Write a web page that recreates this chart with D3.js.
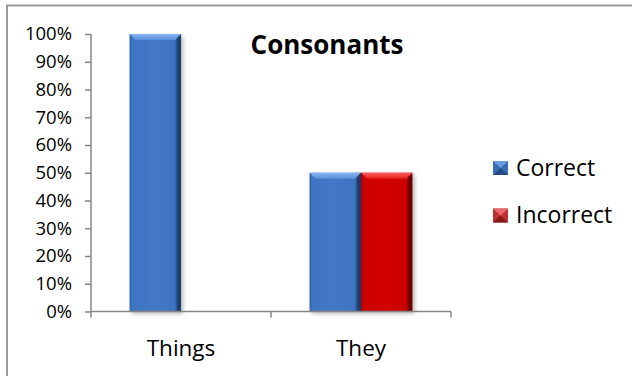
<!DOCTYPE html>
<html>
<head>
<meta charset="utf-8">
<script src="https://cdn.jsdelivr.net/npm/d3@7"></script>
<style>
  html, body { margin: 0; padding: 0; background: #fff; }
  svg { display: block; font-family: "Open Sans", Lato, sans-serif; }
</style>
</head>
<body>
<svg id="chart" width="632" height="376"></svg>
<script>
// Chart data
const categories = ["Things", "They"];
const seriesNames = ["Correct", "Incorrect"];
const correctValues = [1.00, 0.50];
const incorrectValues = [0.00, 0.50];
const yTickValues = [0, 0.1, 0.2, 0.3, 0.4, 0.5, 0.6, 0.7, 0.8, 0.9, 1.0];
const chartTitle = "Consonants";

const seriesValues = [correctValues, incorrectValues];

const palette = {
  Correct:   { left: "#2f5f9f", body: "#3d74c2", mid: "#4479c6", right: "#1e3d6b", top1: "#86b5f2", top2: "#5a8fd9", legend: "#3a6db5", legendTop: "#6a9ce0", legendBot: "#24497f" },
  Incorrect: { left: "#a00000", body: "#cc0000", mid: "#d20404", right: "#6a0000", top1: "#ff5a5a", top2: "#e81e1e", legend: "#c03030", legendTop: "#e86a6a", legendBot: "#8a1a1a" }
};

const svg = d3.select("#chart");
const defs = svg.append("defs");

// Soft shadow under the bars
const shadow = defs.append("filter").attr("id", "barShadow")
  .attr("x", "-20%").attr("y", "-5%").attr("width", "150%").attr("height", "115%");
shadow.append("feDropShadow").attr("dx", 2).attr("dy", 2).attr("stdDeviation", 2)
  .attr("flood-color", "#000").attr("flood-opacity", 0.3);

// Horizontal face gradient and top-bevel gradient per series
seriesNames.forEach(name => {
  const c = palette[name];
  const g = defs.append("linearGradient").attr("id", "face-" + name)
    .attr("x1", "0%").attr("x2", "100%").attr("y1", "0%").attr("y2", "0%");
  [[0, c.left], [0.05, c.body], [0.5, c.mid], [0.88, c.body], [0.94, c.right], [1, c.right]]
    .forEach(([o, col]) => g.append("stop").attr("offset", o).attr("stop-color", col));
  const t = defs.append("linearGradient").attr("id", "top-" + name)
    .attr("x1", "0%").attr("x2", "0%").attr("y1", "0%").attr("y2", "100%");
  [[0, c.top1], [1, c.top2]].forEach(([o, col]) => t.append("stop").attr("offset", o).attr("stop-color", col));
});

// Outer chart border
svg.append("rect")
  .attr("x", 7).attr("y", 5.5).attr("width", 700).attr("height", 420)
  .attr("fill", "none").attr("stroke", "#9a9a9a").attr("stroke-width", 2);

// Scales
const x0 = d3.scaleBand().domain(categories).range([91, 451]).paddingInner(0).paddingOuter(0);
const x1 = d3.scaleBand().domain(seriesNames).range([0, x0.bandwidth()]).paddingInner(0).paddingOuter(0.75);
const y = d3.scaleLinear().domain([0, 1]).range([311.5, 34]);

const axisColor = "#868686";

// Y axis
const yAxis = svg.append("g").attr("transform", `translate(${x0.range()[0]},0)`)
  .call(d3.axisLeft(y).tickValues(yTickValues).tickSize(6).tickPadding(13)
    .tickFormat(d3.format(".0%")));
yAxis.selectAll("path, line").attr("stroke", axisColor).attr("stroke-width", 1.5);
yAxis.select(".domain").attr("d", `M-0,${y(1)}V${y(0)}`);
yAxis.selectAll("text").attr("font-size", 18.5).attr("fill", "#000")
  .style("font-family", "'Open Sans', Lato, sans-serif");

// Bars
const groups = svg.append("g").selectAll("g.cat")
  .data(categories).join("g").attr("class", "cat")
  .attr("transform", d => `translate(${x0(d)},0)`);

groups.each(function(cat, ci) {
  const g = d3.select(this);
  seriesNames.forEach((name, si) => {
    const v = seriesValues[si][ci];
    const bx = x1(name), bw = x1.bandwidth();
    const by = y(v), bh = y(0) - y(v);
    if (bh <= 0) return;
    const bar = g.append("g").attr("filter", "url(#barShadow)");
    bar.append("rect").attr("x", bx).attr("y", by).attr("width", bw).attr("height", bh)
      .attr("fill", `url(#face-${name})`);
    const b = Math.min(6, bh / 2);
    bar.append("polygon")
      .attr("points", [[bx, by], [bx + bw, by], [bx + bw - b, by + b], [bx + b, by + b]].map(p => p.join(",")).join(" "))
      .attr("fill", `url(#top-${name})`);
  });
});

// X axis line and category boundary ticks
const xa = svg.append("g");
xa.append("line").attr("x1", x0.range()[0]).attr("x2", x0.range()[1])
  .attr("y1", y(0)).attr("y2", y(0)).attr("stroke", axisColor).attr("stroke-width", 1.5);
const boundaries = categories.map(c => x0(c)).concat([x0(categories[categories.length - 1]) + x0.bandwidth()]);
xa.selectAll("line.tick").data(boundaries).join("line").attr("class", "tick")
  .attr("x1", d => d).attr("x2", d => d).attr("y1", y(0)).attr("y2", y(0) + 6)
  .attr("stroke", axisColor).attr("stroke-width", 1.5);
xa.selectAll("text").data(categories).join("text")
  .attr("x", d => x0(d) + x0.bandwidth() / 2).attr("y", 356)
  .attr("text-anchor", "middle").attr("font-size", 22.5).attr("fill", "#000")
  .text(d => d);

// Title
svg.append("text").attr("x", 327).attr("y", 54).attr("text-anchor", "middle")
  .attr("font-size", 26).attr("font-weight", "bold").attr("fill", "#000")
  .text(chartTitle);

// Legend
const legend = svg.append("g").attr("transform", "translate(493,161)");
const item = legend.selectAll("g").data(seriesNames).join("g")
  .attr("transform", (d, i) => `translate(0,${i * 47.5})`);
const s = 15;
item.append("rect").attr("width", s).attr("height", s - 1).attr("fill", d => palette[d].legend);
item.append("polygon").attr("points", `0,0 ${s},0 ${s / 2},${(s - 1) / 2}`).attr("fill", d => palette[d].legendTop);
item.append("polygon").attr("points", `0,${s - 1} ${s},${s - 1} ${s / 2},${(s - 1) / 2}`).attr("fill", d => palette[d].legendBot);
item.append("text").attr("x", 23).attr("y", 14.5).attr("font-size", 23).attr("fill", "#000")
  .text(d => d);
</script>
</body>
</html>
